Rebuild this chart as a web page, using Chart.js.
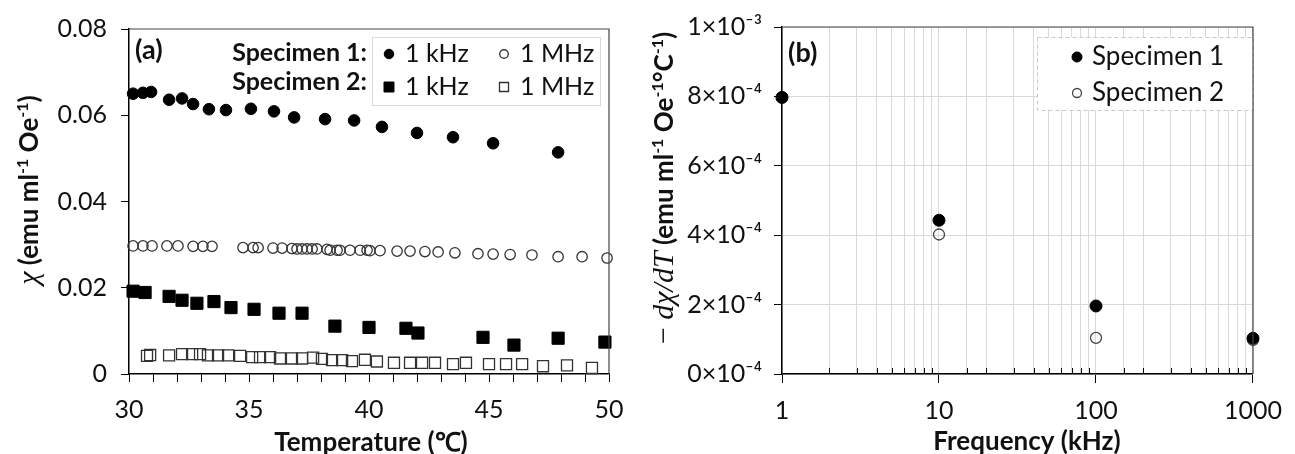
<!DOCTYPE html>
<html>
<head>
<meta charset="utf-8">
<script src="https://cdn.jsdelivr.net/npm/chart.js@4.4.1/dist/chart.umd.min.js"></script>
<style>
  html, body { margin: 0; padding: 0; background: #fff; }
  #wrap { position: relative; width: 1295px; height: 454px; }
  #chartA { position: absolute; left: 0; top: 0; }
  #chartB { position: absolute; left: 645px; top: 0; }
</style>
</head>
<body>
<div id="wrap">
  <canvas id="chartA" width="645" height="454"></canvas>
  <canvas id="chartB" width="650" height="454"></canvas>
</div>
<script>
// ---- panel (a): susceptibility vs temperature ----
const tempS1k1 = [30.17, 30.58, 30.92, 31.67, 32.21, 32.67, 33.33, 34.04, 35.08, 36.04, 36.88, 38.17, 39.38, 40.54, 42.0, 43.5, 45.17, 47.88];
const chiS1k1  = [0.0650, 0.0652, 0.0654, 0.0636, 0.0639, 0.0626, 0.0614, 0.0612, 0.0615, 0.0609, 0.0595, 0.0591, 0.0588, 0.0573, 0.0559, 0.0549, 0.0535, 0.0514];

const tempS1M1 = [30.17, 30.58, 30.96, 31.58, 32.04, 32.67, 33.08, 33.46, 34.75, 35.17, 35.38, 36.0, 36.38, 36.79, 37.0, 37.21, 37.42, 37.63, 37.83, 38.25, 38.38, 38.67, 38.79, 39.21, 39.63, 39.92, 40.04, 40.46, 41.17, 41.71, 42.33, 42.88, 43.58, 44.54, 45.17, 45.88, 46.79, 47.88, 48.88, 49.92];
const chiS1M1  = [0.0297, 0.0297, 0.0297, 0.0297, 0.0297, 0.0296, 0.0296, 0.0296, 0.0293, 0.0293, 0.0293, 0.0292, 0.0292, 0.0291, 0.0290, 0.0290, 0.0290, 0.0290, 0.0290, 0.0289, 0.0287, 0.0287, 0.0287, 0.0287, 0.0287, 0.0287, 0.0286, 0.0286, 0.0285, 0.0285, 0.0284, 0.0283, 0.0281, 0.0279, 0.0278, 0.0277, 0.0276, 0.0272, 0.0272, 0.0269];

const tempS2k1 = [30.17, 30.67, 31.67, 32.21, 32.83, 33.54, 34.25, 35.21, 36.25, 37.21, 38.58, 40.0, 41.54, 42.04, 44.75, 46.04, 47.88, 49.83];
const chiS2k1  = [0.0192, 0.0189, 0.0180, 0.0171, 0.0164, 0.0168, 0.0154, 0.0150, 0.0141, 0.0141, 0.0111, 0.0108, 0.0106, 0.0095, 0.0085, 0.0067, 0.0083, 0.0074];

const tempS2M1 = [30.75, 30.88, 31.67, 32.21, 32.63, 32.96, 33.29, 33.71, 34.13, 34.63, 35.13, 35.46, 35.88, 36.29, 36.79, 37.21, 37.67, 38.04, 38.46, 38.88, 39.29, 39.83, 40.33, 41.04, 41.71, 42.21, 42.75, 43.5, 44.04, 45.0, 45.71, 46.38, 47.25, 48.25, 49.29];
const chiS2M1  = [0.0042, 0.0044, 0.0043, 0.0046, 0.0046, 0.0046, 0.0043, 0.0043, 0.0043, 0.0042, 0.0039, 0.0039, 0.0039, 0.0036, 0.0036, 0.0036, 0.0038, 0.0035, 0.0032, 0.0032, 0.0030, 0.0033, 0.0029, 0.0026, 0.0026, 0.0026, 0.0026, 0.0023, 0.0026, 0.0023, 0.0023, 0.0023, 0.0018, 0.0020, 0.0014];

const tempTicks = [30, 35, 40, 45, 50];
const chiTicks = [0, 0.02, 0.04, 0.06, 0.08];

// ---- panel (b): -dchi/dT vs frequency ----
const freqKHz = [1, 10, 100, 1000];
const slopeS1 = [7.97e-4, 4.43e-4, 1.96e-4, 1.03e-4];
const slopeS2 = [7.97e-4, 4.02e-4, 1.04e-4, 0.98e-4];
const freqTicks = [1, 10, 100, 1000];

const TICK_FONT = { family: 'Lato', size: 25 };
const TXT = '#111';

function pts(xs, ys) { return xs.map((x, i) => ({ x: x, y: ys[i] })); }

function drawRich(ctx, segs, x, y, rot) {
  ctx.save();
  ctx.translate(x, y);
  ctx.rotate(rot || 0);
  let w = 0;
  segs.forEach(s => { ctx.font = s.f; s.w = ctx.measureText(s.t).width; w += s.w; });
  let cx = -w / 2;
  ctx.textBaseline = 'alphabetic';
  ctx.textAlign = 'left';
  ctx.fillStyle = TXT;
  segs.forEach(s => { ctx.font = s.f; ctx.fillText(s.t, cx, s.dy || 0); cx += s.w; });
  ctx.restore();
}

// draw a marker with the dataset's own style (fill + stroke set before drawPoint)
function marker(c, d, r, x, y) {
  c.fillStyle = d.backgroundColor; c.strokeStyle = d.borderColor; c.lineWidth = d.borderWidth;
  Chart.helpers.drawPoint(c, { pointStyle: d.pointStyle, radius: r, borderWidth: d.borderWidth, rotation: 0 }, x, y);
}

const B = 'bold 26px Lato';
const SUP = 'bold 16px Lato';
const MATH = 'italic 30px "Liberation Serif"';

const frameA = {
  id: 'frameA',
  afterDraw(chart) {
    const c = chart.ctx, a = chart.chartArea;
    c.save();
    c.strokeStyle = '#444'; c.lineWidth = 1.2;
    c.beginPath();
    c.moveTo(a.left, a.top); c.lineTo(a.right, a.top); c.lineTo(a.right, a.bottom);
    c.stroke();
    c.font = 'bold 27px Lato'; c.fillStyle = TXT; c.textBaseline = 'middle';
    c.fillText('(a)', 135, 50);
    // legend
    c.textAlign = 'right'; c.font = 'bold 25px Lato';
    c.fillText('Specimen 1:', 367, 53);
    c.fillText('Specimen 2:', 367, 82);
    c.fillStyle = '#fff'; c.fillRect(372, 37, 228, 68);
    c.strokeStyle = '#d9d9d9'; c.lineWidth = 1; c.strokeRect(372.5, 37.5, 228, 68);
    const ds = chart.data.datasets;
    const rows = [[0, 1, 54], [2, 3, 87]];
    rows.forEach(r => {
      [[r[0], 389], [r[1], 504]].forEach(p => {
        const d = ds[p[0]];
        marker(c, d, d.pointRadius * 0.82, p[1], r[2]);
        c.fillStyle = TXT; c.textAlign = 'left'; c.font = '25px Lato'; c.textBaseline = 'middle';
        c.fillText(d.label, p[1] + 16, r[2]);
      });
    });
    drawRich(c, [{ t: 'Temperature (\u2103)', f: B }], 371, 451);
    drawRich(c, [
      { t: '\u03c7', f: MATH }, { t: ' (emu ml', f: B }, { t: '-1', f: SUP, dy: -10 },
      { t: ' Oe', f: B }, { t: '-1', f: SUP, dy: -10 }, { t: ')', f: B }
    ], 38, 190, -Math.PI / 2);
    c.restore();
  }
};

new Chart(document.getElementById('chartA'), {
  type: 'scatter',
  data: {
    datasets: [
      { label: '1 kHz', data: pts(tempS1k1, chiS1k1), pointStyle: 'circle', pointRadius: 5.8, backgroundColor: '#000', borderColor: '#000', borderWidth: 1, clip: false },
      { label: '1 MHz', data: pts(tempS1M1, chiS1M1), pointStyle: 'circle', pointRadius: 5.2, backgroundColor: 'rgba(0,0,0,0)', borderColor: '#333', borderWidth: 1.3, clip: false },
      { label: '1 kHz', data: pts(tempS2k1, chiS2k1), pointStyle: 'rect', pointRadius: 8.6, backgroundColor: '#000', borderColor: '#000', borderWidth: 1, clip: false },
      { label: '1 MHz', data: pts(tempS2M1, chiS2M1), pointStyle: 'rect', pointRadius: 7.8, backgroundColor: 'rgba(0,0,0,0)', borderColor: '#333', borderWidth: 1.3, clip: false }
    ]
  },
  options: {
    responsive: false, animation: false, events: [],
    layout: { padding: { left: 0, right: 36, top: 27, bottom: 0 } },
    plugins: { legend: { display: false }, tooltip: { enabled: false } },
    scales: {
      x: {
        type: 'linear', min: 30, max: 50,
        ticks: { stepSize: 1, autoSkip: false, maxRotation: 0, padding: 13, font: TICK_FONT, color: TXT,
          callback: v => tempTicks.includes(v) ? String(v) : '' },
        grid: { drawOnChartArea: false, tickLength: 8, color: '#000', lineWidth: 1 },
        border: { color: '#000', width: 1.5 },
        afterFit: s => { s.height = 80; }
      },
      y: {
        min: 0, max: 0.08,
        afterBuildTicks: s => { s.ticks = chiTicks.map(v => ({ value: v })); },
        ticks: { padding: 14, font: TICK_FONT, color: TXT,
          callback: v => v === 0 ? '0' : v.toFixed(2) },
        grid: { drawOnChartArea: false, tickLength: 8, color: '#000', lineWidth: 1 },
        border: { color: '#000', width: 1.5 },
        afterFit: s => { s.width = 129; }
      }
    }
  },
  plugins: [frameA]
});

// ---- panel (b) ----
const isDecade = v => freqTicks.includes(v);
const OFF = 645;

const frameB = {
  id: 'frameB',
  afterDraw(chart) {
    const c = chart.ctx, a = chart.chartArea;
    c.save();
    c.strokeStyle = '#444'; c.lineWidth = 1.2;
    c.beginPath();
    c.moveTo(a.left, a.top); c.lineTo(a.right, a.top); c.lineTo(a.right, a.bottom);
    c.stroke();
    // inward minor ticks
    const xs = chart.scales.x;
    c.strokeStyle = '#000'; c.lineWidth = 1;
    xs.ticks.forEach(t => {
      if (isDecade(t.value)) return;
      const px = Math.round(xs.getPixelForValue(t.value)) + 0.5;
      c.beginPath(); c.moveTo(px, a.bottom); c.lineTo(px, a.bottom - 6); c.stroke();
    });
    c.font = 'bold 27px Lato'; c.fillStyle = TXT; c.textBaseline = 'middle'; c.textAlign = 'left';
    c.fillText('(b)', 788 - OFF, 53);
    drawRich(c, [{ t: 'Frequency (kHz)', f: B }], 1027 - OFF, 450);
    drawRich(c, [
      { t: '\u2212 ', f: '30px "Liberation Serif"' }, { t: 'd\u03c7/dT', f: MATH },
      { t: ' (emu ml', f: B }, { t: '-1', f: SUP, dy: -10 },
      { t: ' Oe', f: B }, { t: '-1', f: SUP, dy: -10 },
      { t: '\u00b0C', f: B }, { t: '-1', f: SUP, dy: -10 }, { t: ')', f: B }
    ], 673 - OFF, 188, -Math.PI / 2);
    c.restore();
  },
  afterDatasetsDraw(chart) {
    const c = chart.ctx;
    const L = 1037 - OFF, T = 37, W = 216, H = 73;
    c.save();
    c.fillStyle = '#fff'; c.fillRect(L, T, W, H);
    c.setLineDash([4, 3]); c.strokeStyle = '#c8c8c8'; c.lineWidth = 1;
    c.strokeRect(L + 0.5, T + 0.5, W, H);
    c.setLineDash([]);
    const ds = chart.data.datasets;
    [[0, 57], [1, 93]].forEach(r => {
      const d = ds[r[0]];
      marker(c, d, r[0] === 0 ? 5 : 4.5, 1077 - OFF, r[1]);
      c.fillStyle = TXT; c.font = '26px Lato'; c.textBaseline = 'middle'; c.textAlign = 'left';
      c.fillText(d.label, 1092 - OFF, r[1]);
    });
    c.restore();
  }
};

new Chart(document.getElementById('chartB'), {
  type: 'scatter',
  data: {
    datasets: [
      { label: 'Specimen 1', data: pts(freqKHz, slopeS1), pointStyle: 'circle', pointRadius: 6, backgroundColor: '#000', borderColor: '#000', borderWidth: 1, clip: false },
      { label: 'Specimen 2', data: pts(freqKHz, slopeS2), pointStyle: 'circle', pointRadius: 5.5, backgroundColor: 'rgba(255,255,255,0)', borderColor: '#444', borderWidth: 1.3, clip: false }
    ]
  },
  options: {
    responsive: false, animation: false, events: [],
    layout: { padding: { left: 0, right: 32, top: 26, bottom: 0 } },
    plugins: { legend: { display: false }, tooltip: { enabled: false } },
    scales: {
      x: {
        type: 'logarithmic', min: 1, max: 1000,
        ticks: { autoSkip: false, maxRotation: 0, padding: 13, font: TICK_FONT, color: TXT,
          callback: v => isDecade(v) ? String(v) : '' },
        grid: { color: '#d9d9d9', lineWidth: 1, tickLength: 9,
          tickColor: ctx => (ctx.tick && isDecade(ctx.tick.value)) ? '#000' : 'rgba(0,0,0,0)' },
        border: { color: '#000', width: 1.5 },
        afterFit: s => { s.height = 80; }
      },
      y: {
        min: 0, max: 1e-3,
        ticks: { stepSize: 2e-4, padding: 12, font: TICK_FONT, color: TXT,
          callback: v => {
            const n = Math.round(v * 1e4);
            return n === 10 ? '1\u00d710\u207b\u00b3' : n + '\u00d710\u207b\u2074';
          } },
        grid: { color: '#d9d9d9', lineWidth: 1, tickLength: 8, tickColor: '#000' },
        border: { color: '#000', width: 1.5 },
        afterFit: s => { s.width = 137; }
      }
    }
  },
  plugins: [frameB]
});
</script>
</body>
</html>
